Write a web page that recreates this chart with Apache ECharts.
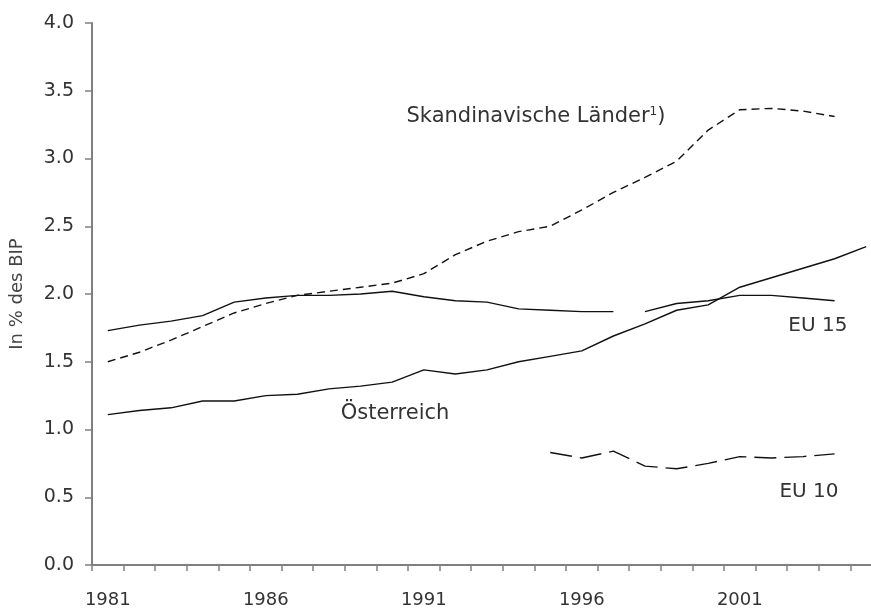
<!DOCTYPE html>
<html>
<head>
<meta charset="utf-8">
<script src="https://cdn.jsdelivr.net/npm/echarts@6/dist/echarts.min.js"></script>
<style>html,body{margin:0;padding:0;background:#fff;}#c{width:871px;height:611px;}</style>
</head>
<body>
<div id="c"></div>
<script>
var years = ['1981','1982','1983','1984','1985','1986','1987','1988','1989','1990','1991','1992','1993','1994','1995','1996','1997','1998','1999','2000','2001','2002','2003','2004','2005'];
var oesterreich = [1.11,1.14,1.16,1.21,1.21,1.25,1.26,1.30,1.32,1.35,1.44,1.41,1.44,1.50,1.54,1.58,1.69,1.78,1.88,1.92,2.05,2.12,2.19,2.26,2.35];
var eu15a = [1.73,1.77,1.80,1.84,1.94,1.97,1.99,1.99,2.00,2.02,1.98,1.95,1.94,1.89,1.88,1.87,1.87,null,null,null,null,null,null,null,null];
var eu15b = [null,null,null,null,null,null,null,null,null,null,null,null,null,null,null,null,null,1.87,1.93,1.95,1.99,1.99,1.97,1.95,null];
var skandinavien = [1.50,1.57,1.66,1.76,1.86,1.93,1.99,2.02,2.05,2.08,2.15,2.29,2.39,2.46,2.50,2.62,2.75,2.86,2.98,3.21,3.36,3.37,3.35,3.31,null];
var eu10 = [null,null,null,null,null,null,null,null,null,null,null,null,null,null,0.83,0.79,0.84,0.73,0.71,0.75,0.80,0.79,0.80,0.82,null];
var yTicks = ['0.0','0.5','1.0','1.5','2.0','2.5','3.0','3.5','4.0'];

var FONT = 'DejaVu Sans';
var chart = echarts.init(document.getElementById('c'), null, {renderer: 'canvas'});
function line(name, data, type) {
  return {
    name: name, type: 'line', data: data, symbol: 'none', smooth: false,
    connectNulls: false, animation: false,
    lineStyle: {color: '#111', width: 1.4, type: type}
  };
}
chart.setOption({
  animation: false,
  backgroundColor: '#fff',
  grid: {left: 92, width: 790, top: 23, bottom: 46, containLabel: false, outerBoundsMode: 'none'},
  xAxis: {
    type: 'category', data: years, boundaryGap: true,
    axisLine: {lineStyle: {color: '#808080', width: 2}},
    axisTick: {show: true, interval: 0, length: 6, lineStyle: {color: '#808080', width: 1.5}},
    axisLabel: {interval: 4, margin: 26, color: '#333', fontFamily: FONT, fontSize: 18},
    splitLine: {show: false}
  },
  yAxis: {
    type: 'value', min: 0, max: 4, interval: 0.5,
    name: 'In % des BIP', nameLocation: 'middle', nameGap: 66, nameRotate: 90,
    nameTextStyle: {color: '#444', fontFamily: FONT, fontSize: 18},
    axisLine: {show: true, lineStyle: {color: '#808080', width: 2}},
    axisTick: {show: true, length: 7, lineStyle: {color: '#808080', width: 1.5}},
    axisLabel: {margin: 18, color: '#333', fontFamily: FONT, fontSize: 19,
      formatter: function (v) { return yTicks[Math.round(v * 2)]; }},
    splitLine: {show: false}
  },
  series: [
    line('Österreich', oesterreich, 'solid'),
    line('EU 15', eu15a, 'solid'),
    line('EU 15 ', eu15b, 'solid'),
    line('Skandinavische Länder', skandinavien, [8, 5]),
    line('EU 10', eu10, [22, 8])
  ]
});

// Annotations placed in data space (fractional category index, value)
var notes = [
  {text: '{a|Skandinavische Länder}{s|1}{a|)}', x: 13.55, y: 3.31, size: 21},
  {text: '{a|Österreich}', x: 9.09, y: 1.12, size: 21},
  {text: '{a|EU 15}', x: 22.47, y: 1.77, size: 20},
  {text: '{a|EU 10}', x: 22.19, y: 0.546, size: 20}
];
function toPixel(ix, v) {
  var i0 = Math.floor(ix), f = ix - i0;
  var a = chart.convertToPixel({xAxisIndex: 0, yAxisIndex: 0}, [i0, v]);
  var b = chart.convertToPixel({xAxisIndex: 0, yAxisIndex: 0}, [i0 + 1, v]);
  return [a[0] + (b[0] - a[0]) * f, a[1]];
}
var els = notes.map(function (n) {
  var p = toPixel(n.x, n.y);
  return {
    type: 'text', x: p[0], y: p[1], silent: true,
    style: {
      text: n.text, align: 'center', verticalAlign: 'middle',
      rich: {
        a: {fontFamily: FONT, fontSize: n.size, fill: '#333', color: '#333', lineHeight: 22, verticalAlign: 'bottom'},
        s: {fontFamily: FONT, fontSize: 12, fill: '#333', color: '#333', lineHeight: 22, verticalAlign: 'top'}
      }
    }
  };
});
chart.setOption({graphic: els});
</script>
</body>
</html>
